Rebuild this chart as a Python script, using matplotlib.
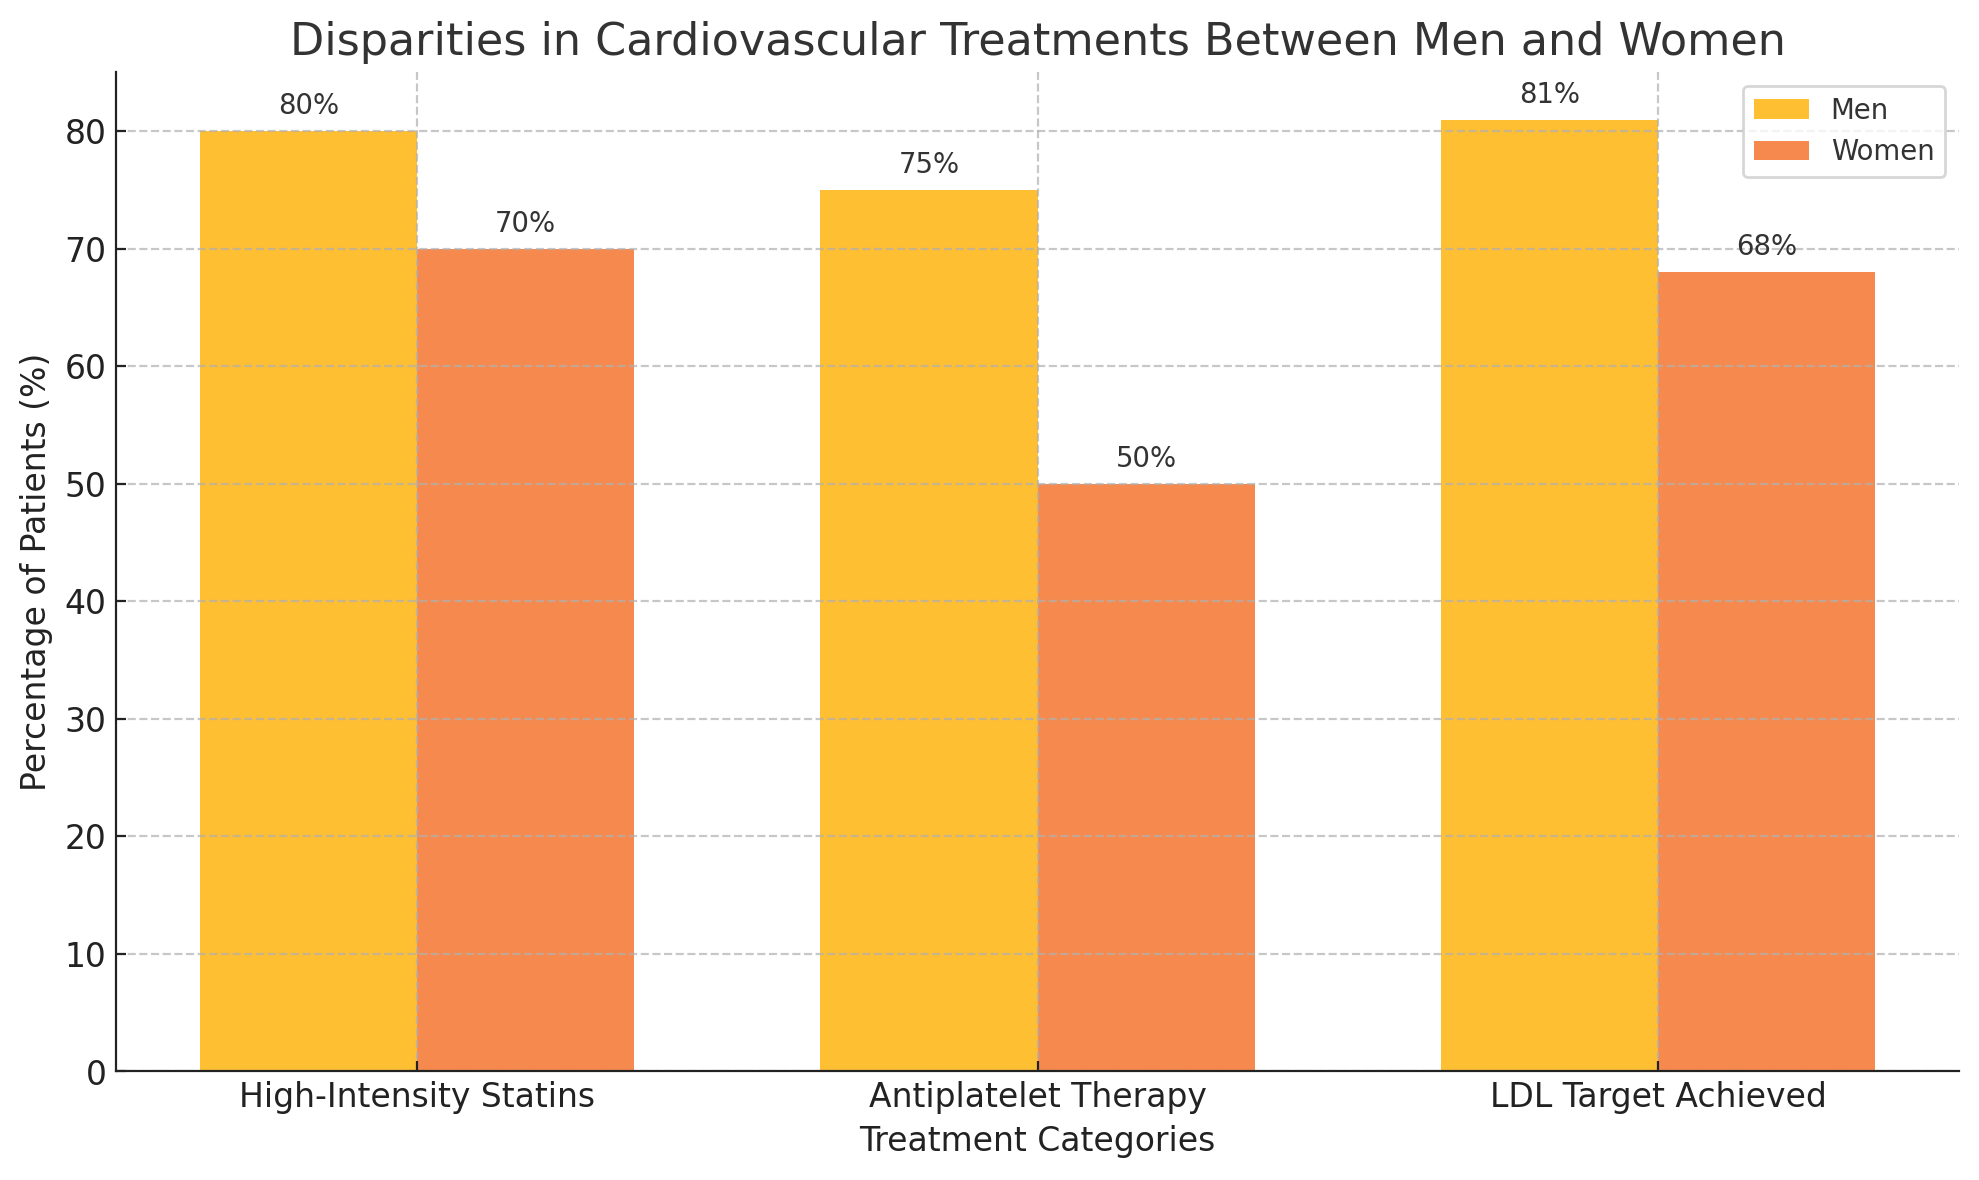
import numpy as np
import matplotlib.pyplot as plt

# data
categories = ['High-Intensity Statins', 'Antiplatelet Therapy', 'LDL Target Achieved']
men = [80, 75, 81]
women = [70, 50, 68]

x = np.arange(len(categories))
width = 0.35

fig, ax = plt.subplots(figsize=(9.995, 5.96), dpi=198)

bars_men = ax.bar(x - width/2, men, width, label='Men', color='#FFBF33')
bars_women = ax.bar(x + width/2, women, width, label='Women', color='#F68A4E')

# value labels
for bars in (bars_men, bars_women):
    for b in bars:
        ax.annotate(f'{b.get_height():.0f}%',
                    xy=(b.get_x() + b.get_width()/2, b.get_height()),
                    xytext=(0, 4), textcoords='offset points',
                    ha='center', va='bottom', fontsize=10, color='#333333')

ax.set_title('Disparities in Cardiovascular Treatments Between Men and Women',
             fontsize=16.2, color='#333333')
ax.set_xlabel('Treatment Categories', fontsize=12, color='#222222')
ax.set_ylabel('Percentage of Patients (%)', fontsize=12, color='#222222')
ax.set_xticks(x)
ax.set_xticklabels(categories, fontsize=12)
ax.tick_params(axis='both', direction='in', labelsize=12, colors='#222222')

ax.grid(True, linestyle='--', color='#b0b0b0', alpha=0.7)
ax.spines['top'].set_visible(False)
ax.spines['right'].set_visible(False)
ax.spines['left'].set_color('#222222')
ax.spines['bottom'].set_color('#222222')

leg = ax.legend(fontsize=10)
for t in leg.get_texts():
    t.set_color('#333333')

plt.subplots_adjust(left=0.0587, right=0.990, top=0.939, bottom=0.092)
plt.savefig('out.png')
plt.close()
